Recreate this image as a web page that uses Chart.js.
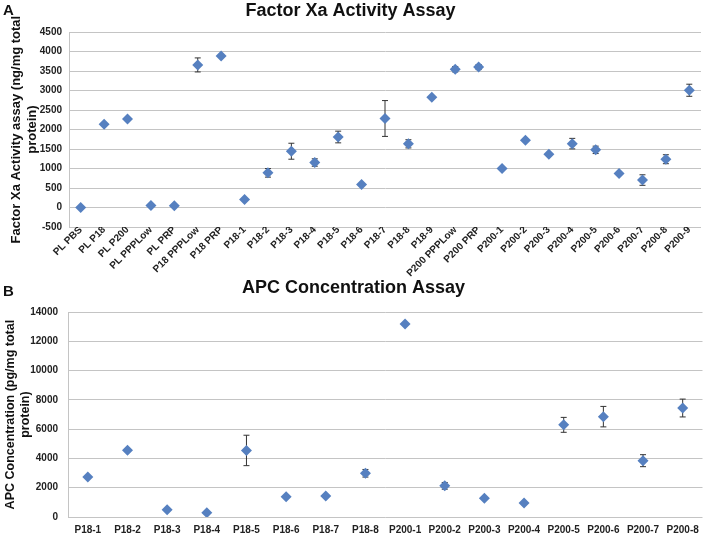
<!DOCTYPE html>
<html>
<head>
<meta charset="utf-8">
<script src="https://cdn.jsdelivr.net/npm/chart.js@4"></script>
<style>
  body { margin: 0; background: #fff; }
  #wrap { position: relative; width: 708px; height: 534px; }
  canvas { position: absolute; left: 0; }
  .tag { position: absolute; left: 3px; font: bold 15px "Liberation Sans", Arial, sans-serif; color: #111; }
</style>
</head>
<body>
<div id="wrap">
  <canvas id="chartA" width="708" height="300" style="top:0"></canvas>
  <canvas id="chartB" width="708" height="264" style="top:270px"></canvas>
  <div class="tag" style="top:1px">A</div>
  <div class="tag" style="top:282px">B</div>
</div>
<script>
// panel A - factor Xa
const xaLabels = ['PL PBS', 'PL P18', 'PL P200', 'PL PPPLow', 'PL PRP', 'P18 PPPLow', 'P18 PRP',
  'P18-1', 'P18-2', 'P18-3', 'P18-4', 'P18-5', 'P18-6', 'P18-7', 'P18-8', 'P18-9',
  'P200 PPPLow', 'P200 PRP', 'P200-1', 'P200-2', 'P200-3', 'P200-4', 'P200-5', 'P200-6', 'P200-7', 'P200-8', 'P200-9'];
const xaValues = [0, 2140, 2275, 50, 45, 3660, 3890, 205, 890, 1445, 1155, 1810, 590, 2285, 1635, 2830,
  3550, 3605, 1000, 1725, 1370, 1640, 1480, 875, 705, 1240, 3010];
const xaErrors = [0, 0, 0, 0, 0, 180, 0, 0, 110, 205, 95, 150, 0, 460, 105, 0,
  70, 65, 0, 0, 0, 135, 95, 0, 135, 115, 155];
const xaTicks = { min: -500, max: 4500, step: 500 };

// panel B - APC
const apcLabels = ['P18-1', 'P18-2', 'P18-3', 'P18-4', 'P18-5', 'P18-6', 'P18-7', 'P18-8',
  'P200-1', 'P200-2', 'P200-3', 'P200-4', 'P200-5', 'P200-6', 'P200-7', 'P200-8'];
const apcValues = [2740, 4570, 500, 295, 4550, 1385, 1430, 2990, 13200, 2130, 1290, 950, 6300, 6860, 3850, 7450];
const apcErrors = [0, 0, 0, 0, 1040, 0, 0, 260, 0, 230, 0, 0, 510, 700, 410, 610];
const apcTicks = { min: 0, max: 14000, step: 2000 };

Chart.defaults.font.family = '"Liberation Sans", Arial, sans-serif';
Chart.defaults.color = '#222';

const markerColor = '#5680c0';
const gridColor = '#c4c4c4';

// draws the +/- error bars from dataset.errors
const errorBars = {
  id: 'errorBars',
  beforeDatasetsDraw(chart) {
    const ctx = chart.ctx;
    const y = chart.scales.y;
    chart.data.datasets.forEach((ds, i) => {
      const meta = chart.getDatasetMeta(i);
      meta.data.forEach((pt, j) => {
        const e = ds.errors[j];
        if (!e) return;
        const v = ds.data[j];
        const top = y.getPixelForValue(v + e);
        const bot = y.getPixelForValue(v - e);
        ctx.save();
        ctx.strokeStyle = '#333';
        ctx.lineWidth = 1;
        ctx.beginPath();
        ctx.moveTo(pt.x, top); ctx.lineTo(pt.x, bot);
        ctx.moveTo(pt.x - 3, top); ctx.lineTo(pt.x + 3, top);
        ctx.moveTo(pt.x - 3, bot); ctx.lineTo(pt.x + 3, bot);
        ctx.stroke();
        ctx.restore();
      });
    });
  }
};

function makeChart(id, o) {
  return new Chart(document.getElementById(id), {
    type: 'line',
    data: {
      labels: o.labels,
      datasets: [{
        data: o.values,
        errors: o.errors,
        showLine: false,
        pointStyle: 'rectRot',
        pointRadius: 5.5,
        pointHoverRadius: 5.5,
        pointBackgroundColor: markerColor,
        pointBorderColor: markerColor,
        pointBorderWidth: 0
      }]
    },
    options: {
      responsive: false,
      animation: false,
      events: [],
      layout: { padding: { left: 0, right: o.padRight, top: o.padTop, bottom: 0 } },
      plugins: {
        legend: { display: false },
        tooltip: { enabled: false },
        title: {
          display: true,
          text: o.title,
          font: { size: 18, weight: 'bold' },
          color: '#111',
          padding: { top: 0, bottom: o.titleGap }
        }
      },
      scales: {
        x: {
          offset: true,
          grid: { display: false, drawTicks: false },
          border: { display: false },
          ticks: {
            autoSkip: false,
            minRotation: o.rot, maxRotation: o.rot,
            padding: o.xPad,
            font: { size: 10, weight: 'bold' },
            color: '#222'
          },
          afterFit: s => { s.height = o.xHeight; }
        },
        y: {
          min: o.ticks.min, max: o.ticks.max,
          grid: { color: gridColor, drawTicks: false },
          border: { display: true, color: gridColor },
          ticks: {
            stepSize: o.ticks.step,
            padding: o.yPad,
            font: { size: 10, weight: 'bold' },
            color: '#222',
            callback: v => String(v)
          },
          title: {
            display: true,
            text: o.yTitle,
            font: { size: o.yTitleSize, weight: 'bold', lineHeight: 1.2 },
            color: '#111',
            padding: { top: o.yTitlePad, bottom: 0 }
          },
          afterFit: s => { s.width = o.yWidth; }
        }
      }
    },
    plugins: [errorBars]
  });
}

makeChart('chartA', {
  labels: xaLabels, values: xaValues, errors: xaErrors, ticks: xaTicks,
  title: 'Factor Xa Activity Assay',
  yTitle: ['Factor Xa Activity assay (ng/mg total', 'protein)'],
  yTitleSize: 13, yTitlePad: 9,
  padRight: 7, padTop: 0, titleGap: 10.6,
  rot: 45, xPad: -3, xHeight: 73, yPad: 7, yWidth: 69
});

makeChart('chartB', {
  labels: apcLabels, values: apcValues, errors: apcErrors, ticks: apcTicks,
  title: 'APC Concentration Assay',
  yTitle: ['APC Concentration (pg/mg total', 'protein)'],
  yTitleSize: 12.5, yTitlePad: 3,
  padRight: 1, padTop: 7, titleGap: 13.6,
  rot: 0, xPad: 7, xHeight: 17, yPad: 10, yWidth: 68
});
</script>
</body>
</html>
